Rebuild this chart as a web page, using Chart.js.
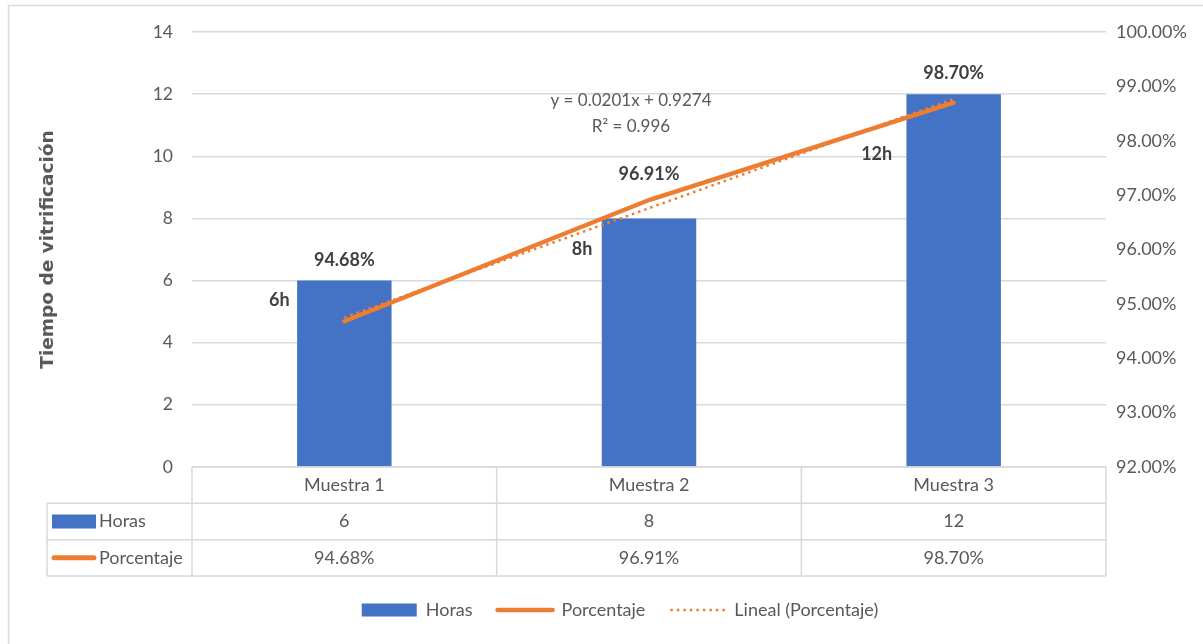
<!DOCTYPE html>
<html>
<head>
<meta charset="utf-8">
<script src="https://cdn.jsdelivr.net/npm/chart.js@4.4.1/dist/chart.umd.min.js"></script>
<style>
  html, body { margin: 0; padding: 0; background: #fff; }
  #wrap { width: 1203px; height: 644px; position: relative; }
</style>
</head>
<body>
<div id="wrap"><canvas id="chart"></canvas></div>
<script>
const categories = ['Muestra 1', 'Muestra 2', 'Muestra 3'];
const hours = [6, 8, 12];
const percentages = [94.68, 96.91, 98.70];
const trendValues = [94.75, 96.76, 98.77];
const equationLines = ['y = 0.0201x + 0.9274', 'R² = 0.996'];

const BLUE = '#4472C4';
const ORANGE = '#ED7D31';
const TEXT = '#595959';
const GRID = '#d9d9d9';
const FONT = 'Lato';

// label offsets from the element positions (as placed in the original)
const barLabelOffsets = [[-65, 20], [-67, 31], [-77, 60]];
const lineLabelOffsets = [[0, -61], [0, -26], [0, -30]];

const frame = {
  id: 'frame',
  beforeDraw(chart) {
    const ctx = chart.ctx;
    ctx.save();
    ctx.fillStyle = '#fff';
    ctx.fillRect(0, 0, chart.width, chart.height);
    ctx.strokeStyle = GRID;
    ctx.lineWidth = 1.5;
    ctx.strokeRect(8.5, 5.5, chart.width + 20, chart.height + 20);
    ctx.restore();
  }
};

const labels = {
  id: 'labels',
  afterDatasetsDraw(chart) {
    const ctx = chart.ctx;
    ctx.save();
    ctx.font = 'bold 18px ' + FONT;
    ctx.fillStyle = '#404040';
    ctx.textAlign = 'center';
    ctx.textBaseline = 'middle';
    chart.getDatasetMeta(0).data.forEach((el, i) => {
      const o = barLabelOffsets[i];
      ctx.fillText(hours[i] + 'h', el.x + o[0], el.y + o[1]);
    });
    chart.getDatasetMeta(1).data.forEach((el, i) => {
      const o = lineLabelOffsets[i];
      ctx.fillText(percentages[i].toFixed(2) + '%', el.x + o[0], el.y + o[1]);
    });
    // trendline equation
    const x = chart.scales.x.getPixelForValue(1) - 18;
    ctx.font = '17px ' + FONT;
    ctx.fillStyle = TEXT;
    ctx.fillText(equationLines[0], x, chart.chartArea.top + 69);
    ctx.fillText(equationLines[1], x, chart.chartArea.top + 95);
    ctx.restore();
  }
};

const dataTable = {
  id: 'dataTable',
  afterDraw(chart) {
    const ctx = chart.ctx;
    const xs = chart.scales.x;
    const area = chart.chartArea;
    const top = area.bottom;
    const rowH = (xs.bottom - top) / 3;
    const headLeft = area.left - 145;
    const step = xs.getPixelForValue(1) - xs.getPixelForValue(0);
    const cols = [area.left];
    categories.forEach((c, i) => cols.push(xs.getPixelForValue(i) + step / 2));

    ctx.save();
    ctx.strokeStyle = GRID;
    ctx.lineWidth = 1.5;
    ctx.beginPath();
    ctx.moveTo(area.left, top);
    ctx.lineTo(area.right, top);
    for (let r = 1; r <= 3; r++) {
      ctx.moveTo(headLeft, top + r * rowH);
      ctx.lineTo(area.right, top + r * rowH);
    }
    cols.forEach((cx) => {
      ctx.moveTo(cx, top);
      ctx.lineTo(cx, top + 3 * rowH);
    });
    ctx.moveTo(headLeft, top + rowH);
    ctx.lineTo(headLeft, top + 3 * rowH);
    ctx.stroke();

    ctx.font = '18px ' + FONT;
    ctx.fillStyle = TEXT;
    ctx.textAlign = 'center';
    ctx.textBaseline = 'middle';
    categories.forEach((c, i) => {
      const cx = xs.getPixelForValue(i);
      ctx.fillText(c, cx, top + rowH * 0.5);
      ctx.fillText(String(hours[i]), cx, top + rowH * 1.5);
      ctx.fillText(percentages[i].toFixed(2) + '%', cx, top + rowH * 2.5);
    });

    // row keys
    ctx.textAlign = 'left';
    ctx.fillStyle = BLUE;
    ctx.fillRect(headLeft + 5, top + rowH * 1.5 - 7, 44, 14);
    ctx.strokeStyle = ORANGE;
    ctx.lineWidth = 5;
    ctx.lineCap = 'round';
    ctx.beginPath();
    ctx.moveTo(headLeft + 7, top + rowH * 2.5);
    ctx.lineTo(headLeft + 47, top + rowH * 2.5);
    ctx.stroke();
    ctx.fillStyle = TEXT;
    ctx.fillText(chart.data.datasets[0].label, headLeft + 52, top + rowH * 1.5);
    ctx.fillText(chart.data.datasets[1].label, headLeft + 52, top + rowH * 2.5);
    ctx.restore();
  }
};

new Chart(document.getElementById('chart'), {
  data: {
    labels: categories,
    datasets: [
      {
        type: 'bar',
        label: 'Horas',
        data: hours,
        backgroundColor: BLUE,
        borderWidth: 0,
        barPercentage: 0.31,
        categoryPercentage: 1,
        yAxisID: 'y',
        order: 3,
      },
      {
        type: 'line',
        label: 'Porcentaje',
        data: percentages,
        borderColor: ORANGE,
        backgroundColor: ORANGE,
        borderWidth: 4.5,
        borderCapStyle: 'round',
        pointRadius: 0,
        fill: false,
        yAxisID: 'y1',
        order: 2,
      },
      {
        type: 'line',
        label: 'Lineal (Porcentaje)',
        data: trendValues,
        borderColor: ORANGE,
        backgroundColor: ORANGE,
        borderWidth: 2.5,
        borderDash: [2.5, 4],
        pointRadius: 0,
        fill: false,
        yAxisID: 'y1',
        order: 1,
      },
    ],
  },
  options: {
    responsive: true,
    maintainAspectRatio: false,
    animation: false,
    layout: { padding: { left: 37, right: 0, top: 32, bottom: 15 } },
    plugins: {
      tooltip: { enabled: false },
      legend: {
        position: 'bottom',
        labels: {
          usePointStyle: true,
          pointStyleWidth: 55,
          boxHeight: 13,
          padding: 25,
          color: TEXT,
          font: { family: FONT, size: 18 },
          generateLabels: (chart) =>
            chart.data.datasets.map((ds, i) => ({
              text: ds.label,
              fillStyle: ds.backgroundColor,
              strokeStyle: ds.type === 'bar' ? ds.backgroundColor : ds.borderColor,
              lineWidth: ds.type === 'bar' ? 0 : ds.borderWidth,
              lineDash: ds.borderDash || [],
              lineCap: ds.type === 'bar' ? 'butt' : (ds.borderDash ? 'butt' : 'round'),
              pointStyle: ds.type === 'bar' ? 'rect' : 'line',
              fontColor: TEXT,
              datasetIndex: i,
            })),
        },
      },
    },
    scales: {
      x: {
        type: 'category',
        offset: true,
        grid: { display: false },
        border: { display: false },
        ticks: { display: false },
        afterFit: (axis) => { axis.height = 109; },
      },
      y: {
        position: 'left',
        min: 0,
        max: 14,
        ticks: { stepSize: 2, padding: 19, color: TEXT, font: { family: FONT, size: 17.5 } },
        grid: { color: GRID, lineWidth: 1.5, drawTicks: false },
        border: { display: false },
        title: {
          display: true,
          text: 'Tiempo de vitrificación',
          color: TEXT,
          font: { family: 'DejaVu Sans', size: 18.5, weight: 'bold' },
          padding: { top: 0, bottom: 0 },
        },
        afterFit: (axis) => { axis.width = 155; },
      },
      y1: {
        position: 'right',
        min: 92,
        max: 100,
        ticks: {
          stepSize: 1,
          padding: 10,
          color: TEXT,
          font: { family: FONT, size: 18 },
          callback: (v) => v.toFixed(2) + '%',
        },
        grid: { display: false, drawTicks: false },
        border: { display: false },
        afterFit: (axis) => { axis.width = 97; },
      },
    },
  },
  plugins: [frame, labels, dataTable],
});
</script>
</body>
</html>
